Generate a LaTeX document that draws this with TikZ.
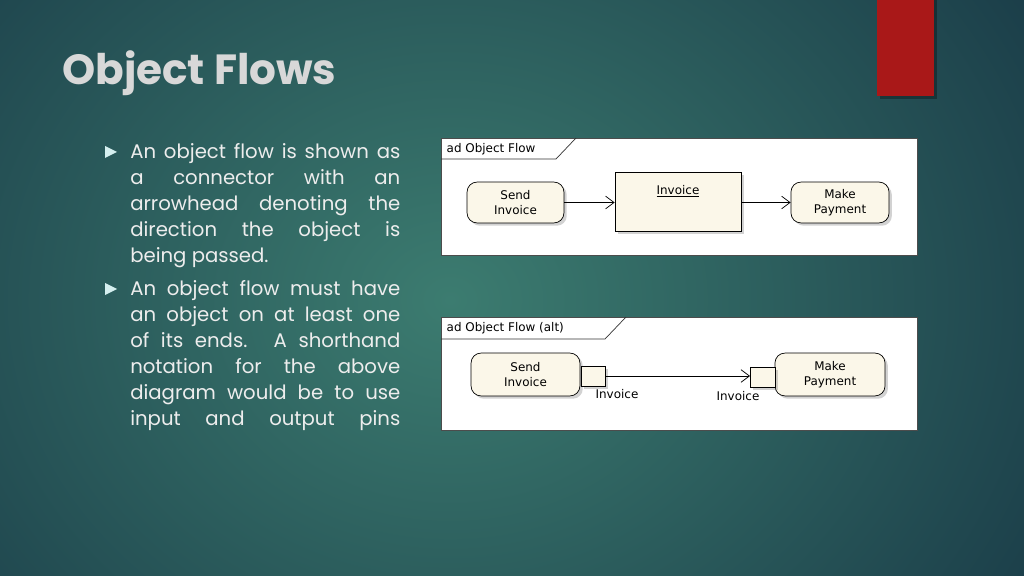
\documentclass[tikz,border=0pt]{standalone}
\usepackage{fontspec}
\setmainfont{Poppins}
\newfontfamily\dfont{DejaVu Sans}
\usetikzlibrary{arrows.meta,shadows}
\definecolor{bgin}{HTML}{3C7C70}
\definecolor{bgout}{HTML}{1A3C48}
\definecolor{redbar}{HTML}{A91818}
\definecolor{cream}{HTML}{FBF7E9}
\definecolor{txt}{HTML}{EDEDED}
\definecolor{ttl}{HTML}{D8D8D8}
\tikzset{
  panel/.style={draw=black!70,fill=white,line width=0.6pt},
  act/.style={draw=black,fill=cream,rounded corners=7pt,line width=0.5pt,drop shadow={shadow xshift=2pt,shadow yshift=-2pt,opacity=0.35},font=\dfont\fontsize{8.5}{11}\selectfont,align=center,inner sep=0pt},
  obj/.style={draw=black,fill=cream,line width=0.5pt,drop shadow={shadow xshift=2pt,shadow yshift=-2pt,opacity=0.35},inner sep=0pt},
  flow/.style={-{Straight Barb[length=6pt,width=9pt]},line width=0.5pt},
  lbl/.style={font=\dfont\fontsize{8.5}{11}\selectfont,inner sep=1pt},
  bul/.style={fill=txt!90!cyan},
  para/.style={anchor=north west,text=txt,inner sep=0,text width=6.75cm,align=justify,font=\fontsize{14}{18.5}\selectfont}
}
\begin{document}
\begin{tikzpicture}[x=0.025cm,y=-0.025cm]
\useasboundingbox (0,0) rectangle (1024,576);
\shade[inner color=bgin,outer color=bgout] (-250,-300) rectangle (1150,900);
\fill[black,opacity=0.3] (880,0) rectangle (937,99);
\fill[redbar] (877,0) rectangle (934,96);
\node[anchor=base west,text=ttl,font=\bfseries\fontsize{30}{34}\selectfont,inner sep=0] (title) at (62,85) {Object Flows};
% bullets
\fill[bul] (105,146) -- (117,152) -- (105,158) -- cycle;
\fill[bul] (105,283) -- (117,289) -- (105,295) -- cycle;
\node[para] (p1) at (130,143) {\hyphenpenalty=10000 An object flow is shown as\linebreak a connector with an\linebreak arrowhead denoting the\linebreak direction the object is\linebreak being passed.};
\node[para] (p2) at (130,280) {\hyphenpenalty=10000 An object flow must have\linebreak an object on at least one\linebreak of its ends. A shorthand\linebreak notation for the above\linebreak diagram would be to use\linebreak input\hfill and\hfill output\hfill pins};
% panel 1
\draw[panel] (441,138) rectangle (917,255);
\draw[black!80,line width=0.5pt] (441,159) -- (556,159) -- (576,138);
\node[lbl,anchor=west] (t1) at (445,149) {ad Object Flow};
\node[act,minimum width=2.42cm,minimum height=1.02cm] (s1) at (515.5,202.5) {Send\\Invoice};
\node[obj,minimum width=3.15cm,minimum height=1.47cm] (o1) at (678,201.5) {};
\node[lbl] (o1t) at (678,191) {\underline{Invoice}};
\node[act,minimum width=2.45cm,minimum height=1.02cm] (m1) at (840,202.5) {Make\\Payment};
\draw[flow] (s1.east) -- (s1.east -| o1.west);
\draw[flow] (m1.west -| o1.east) -- (m1.west);
% panel 2
\draw[panel] (441,317) rectangle (917,430);
\draw[black!80,line width=0.5pt] (441,339) -- (605,339) -- (626,317);
\node[lbl,anchor=west] (t2) at (445,328) {ad Object Flow (alt)};
\node[act,minimum width=2.72cm,minimum height=1.07cm] (s2) at (525.5,374.5) {Send\\Invoice};
\node[obj,minimum width=0.6cm,minimum height=0.5cm,anchor=west] (q1) at (580.5,376) {};
\node[act,minimum width=2.75cm,minimum height=1.07cm] (m2) at (830,374.5) {Make\\Payment};
\node[obj,minimum width=0.62cm,minimum height=0.5cm,anchor=east] (q2) at (775.5,377) {};
\draw[flow] (q1.east) -- (q1.east -| q2.west);
\node[lbl] (l1) at (617,394) {Invoice};
\node[lbl] (l2) at (738,396) {Invoice};
\end{tikzpicture}
\end{document}
